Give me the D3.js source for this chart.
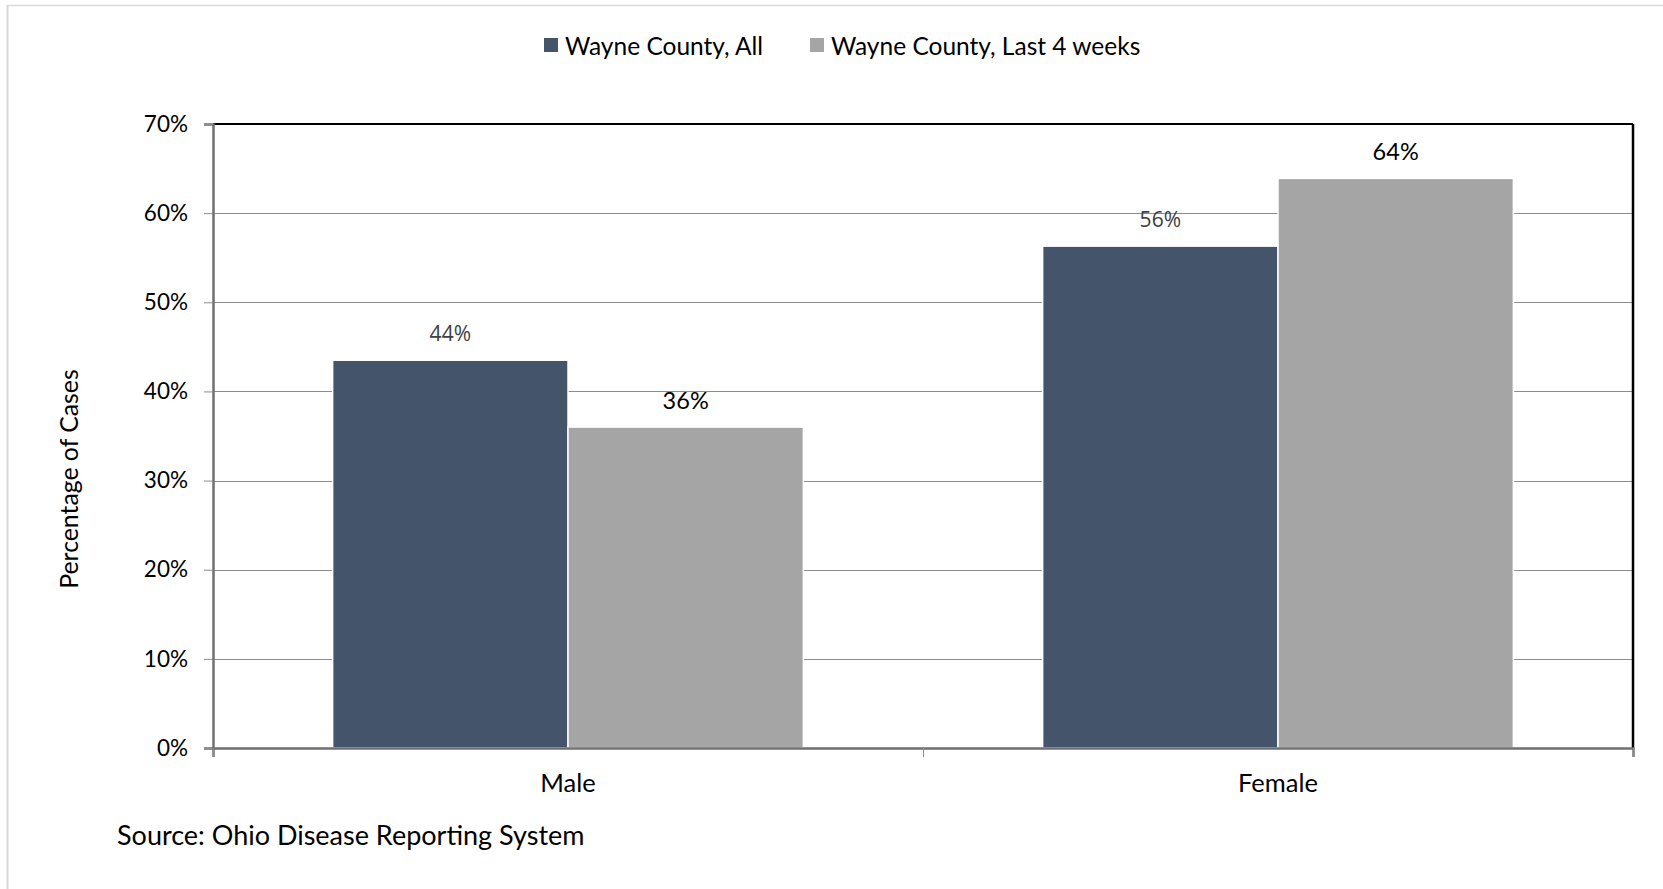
<!DOCTYPE html>
<html>
<head>
<meta charset="utf-8">
<script src="https://cdn.jsdelivr.net/npm/d3@7"></script>
<style>
  body { margin: 0; background: #ffffff; }
  svg { display: block; }
  .calibri { font-family: Lato, "Liberation Sans", sans-serif; fill: #000000; }
</style>
</head>
<body>
<svg id="chart"></svg>
<script>
// categories, series and tick labels
var categories = ["Male", "Female"];
var seriesNames = ["Wayne County, All", "Wayne County, Last 4 weeks"];
var allCases = [43.5, 56.3];
var last4Weeks = [36.0, 63.9];
var yTicks = [0, 10, 20, 30, 40, 50, 60, 70];
var sourceNote = "Source: Ohio Disease Reporting System";
var yTitle = "Percentage of Cases";

var colors = ["#44546a", "#a5a5a5"];

//////////////////////////////////////////////////////////////
var initGraph = function(target)
{
    var screen = {width:1663, height:889};
    var margins = {top:124, bottom:141, left:213, right:30};
    var graph = {
        width:screen.width-margins.left-margins.right,
        height:screen.height-margins.top-margins.bottom
    };

    var svg = d3.select(target)
        .attr("width",screen.width)
        .attr("height",screen.height);

    // faint outer frame (only top and left edges show)
    svg.append("line")
        .attr("x1",7).attr("x2",screen.width)
        .attr("y1",5.5).attr("y2",5.5)
        .attr("stroke","#d9d9d9").attr("stroke-width",1.5);
    svg.append("line")
        .attr("x1",7.5).attr("x2",7.5)
        .attr("y1",5).attr("y2",screen.height)
        .attr("stroke","#d9d9d9").attr("stroke-width",2);

    var xScale = d3.scaleBand()
        .domain(categories)
        .range([0,graph.width])
        .paddingInner(0.337)
        .paddingOuter(0.1685);

    var xSub = d3.scaleBand()
        .domain([0,1])
        .range([0,xScale.bandwidth()]);

    var yScale = d3.scaleLinear()
        .domain([0,70])
        .range([graph.height,0]);

    var g = svg.append("g")
        .attr("transform","translate("+margins.left+","+margins.top+")");

    // gridlines
    g.append("g")
        .selectAll("line")
        .data(yTicks.slice(1))
        .enter()
        .append("line")
        .attr("x1",0).attr("x2",graph.width)
        .attr("y1",function(d){ return Math.round(yScale(d))+0.5; })
        .attr("y2",function(d){ return Math.round(yScale(d))+0.5; })
        .attr("stroke","#8c8c8c")
        .attr("stroke-width",1);

    // bars
    var rows = categories.map(function(c,i){
        return {cat:c, vals:[allCases[i], last4Weeks[i]]};
    });

    var groups = g.selectAll(".grp")
        .data(rows)
        .enter()
        .append("g")
        .attr("transform",function(r){ return "translate("+xScale(r.cat)+",0)"; });

    groups.selectAll("rect")
        .data(function(r){ return r.vals; })
        .enter()
        .append("rect")
        .attr("x",function(v,i){ return xSub(i); })
        .attr("y",function(v){ return yScale(v); })
        .attr("width",xSub.bandwidth())
        .attr("height",function(v){ return graph.height-yScale(v); })
        .attr("fill",function(v,i){ return colors[i]; })
        .attr("stroke","#ffffff")
        .attr("stroke-width",1.5);

    // value labels
    groups.selectAll("text")
        .data(function(r){ return r.vals; })
        .enter()
        .append("text")
        .text(function(v){ return Math.round(v)+"%"; })
        .attr("x",function(v,i){ return xSub(i)+xSub.bandwidth()/2; })
        .attr("y",function(v){ return yScale(v)-27; })
        .attr("text-anchor","middle")
        .attr("dominant-baseline","central")
        .style("font-family",function(v,i){ return i==0 ? "'Open Sans', sans-serif" : "Lato, sans-serif"; })
        .style("font-size",function(v,i){ return i==0 ? "21px" : "23.5px"; })
        .attr("fill",function(v,i){ return i==0 ? "#404040" : "#000000"; });

    // plot frame
    g.append("line")
        .attr("x1",0).attr("x2",graph.width)
        .attr("y1",0).attr("y2",0)
        .attr("stroke","#000").attr("stroke-width",2);
    g.append("line")
        .attr("x1",graph.width).attr("x2",graph.width)
        .attr("y1",0).attr("y2",graph.height)
        .attr("stroke","#000").attr("stroke-width",2.5);

    // axes
    var yAxis = d3.axisLeft(yScale)
        .tickValues(yTicks)
        .tickSize(9)
        .tickPadding(16)
        .tickFormat(function(d){ return d+"%"; });
    var yG = g.append("g").call(yAxis);
    yG.select(".domain").attr("stroke","#707070").attr("stroke-width",2.5);
    yG.selectAll(".tick line").attr("stroke","#8c8c8c");
    yG.selectAll("text")
        .attr("class","calibri")
        .style("font-size","22.5px")
        .attr("fill","#000");

    var xAxis = d3.axisBottom(d3.scaleLinear().domain([0,2]).range([0,graph.width]))
        .tickValues([0,1,2])
        .tickSize(9)
        .tickFormat("");
    var xG = g.append("g")
        .attr("transform","translate(0,"+graph.height+")")
        .call(xAxis);
    xG.select(".domain").attr("stroke","#707070").attr("stroke-width",2.5);
    xG.selectAll(".tick line").attr("stroke","#8c8c8c");

    g.append("g")
        .selectAll("text")
        .data(categories)
        .enter()
        .append("text")
        .attr("class","calibri")
        .text(function(c){ return c; })
        .attr("x",function(c){ return xScale(c)+xScale.bandwidth()/2; })
        .attr("y",graph.height+34)
        .attr("text-anchor","middle")
        .attr("dominant-baseline","central")
        .style("font-size","25.5px");

    // y title
    svg.append("text")
        .attr("class","calibri")
        .text(yTitle)
        .attr("transform","translate(68,479) rotate(-90)")
        .attr("text-anchor","middle")
        .attr("dominant-baseline","central")
        .style("font-size","24.8px");

    // legend
    var legendX = [544, 810];
    var legend = svg.append("g")
        .selectAll("g")
        .data(seriesNames)
        .enter()
        .append("g")
        .attr("transform",function(s,i){ return "translate("+legendX[i]+",38)"; });
    legend.append("rect")
        .attr("width",14).attr("height",14)
        .attr("fill",function(s,i){ return colors[i]; });
    legend.append("text")
        .attr("class","calibri")
        .text(function(s){ return s; })
        .attr("x",21)
        .attr("y",7)
        .attr("dominant-baseline","central")
        .style("font-size","24.5px");

    // source
    svg.append("text")
        .attr("class","calibri")
        .text(sourceNote)
        .attr("x",117)
        .attr("y",834)
        .attr("dominant-baseline","central")
        .style("font-size","27px");
}

initGraph("#chart");
</script>
</body>
</html>
